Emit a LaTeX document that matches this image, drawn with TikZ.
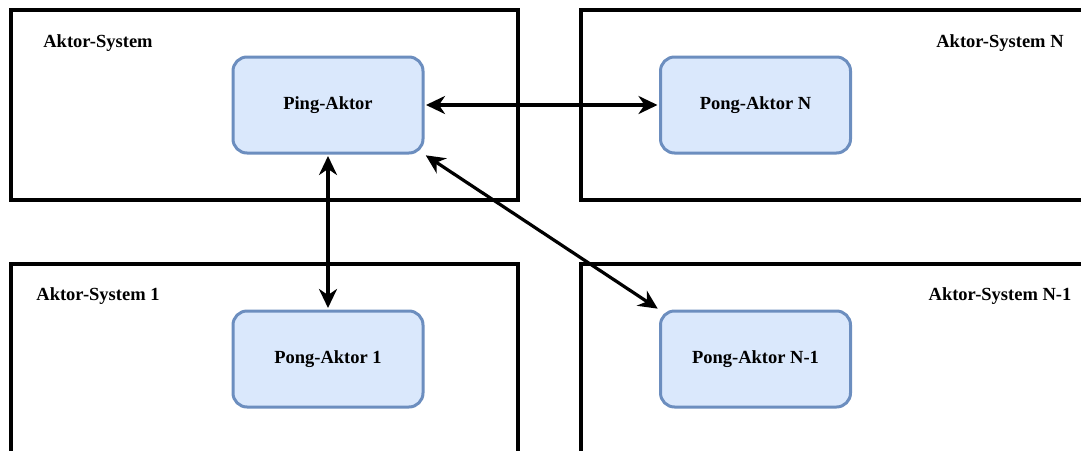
\documentclass[tikz,border=0pt]{standalone}
\usepackage{fontspec}
\setmainfont{Liberation Serif}
\usetikzlibrary{arrows.meta}
\tikzset{
  sysbox/.style={draw=black, line width=3.3pt, rectangle, inner sep=0pt},
  actor/.style={draw={rgb,255:red,108;green,142;blue,191}, fill={rgb,255:red,218;green,232;blue,252},
    line width=3pt, rounded corners=14pt, minimum width=190pt, minimum height=96pt,
    font=\fontsize{18.5pt}{22pt}\selectfont\bfseries},
  syslabel/.style={font=\fontsize{18.5pt}{22pt}\selectfont\bfseries},
  link/.style={line width=3.2pt, {Stealth[length=19pt,width=18pt,inset=6pt]}-{Stealth[length=19pt,width=18pt,inset=6pt]}, shorten <=1.5pt, shorten >=1.5pt}
}
\begin{document}
\begin{tikzpicture}[x=1pt,y=-1pt]
\useasboundingbox (0,0) rectangle (1081,450);
\begin{scope}
\clip (0,0) rectangle (1081,450);
\node[sysbox, minimum width=507pt, minimum height=190pt] (s0) at (264.5,105) {};
\node[sysbox, minimum width=520pt, minimum height=190pt] (sN) at (841,105) {};
\node[sysbox, minimum width=507pt, minimum height=210pt] (s1) at (264.5,369) {};
\node[sysbox, minimum width=520pt, minimum height=210pt] (sN1) at (841,369) {};
\end{scope}
\node[syslabel] (l0) at (98,43) {Aktor-System};
\node[syslabel] (lN) at (1000,43) {Aktor-System N};
\node[syslabel] (l1) at (98,296) {Aktor-System 1};
\node[syslabel] (lN1) at (1000,296) {Aktor-System N-1};
\node[actor] (ping) at (328,105) {Ping-Aktor};
\node[actor] (pongN) at (755.5,105) {Pong-Aktor N};
\node[actor] (pong1) at (328,359) {Pong-Aktor 1};
\node[actor] (pongN1) at (755.5,359) {Pong-Aktor N-1};
\draw[link] (ping.east) -- (pongN.west);
\draw[link] (ping.south) -- (pong1.north);
\draw[link] (ping.south east) -- (pongN1.north west);
\end{tikzpicture}
\end{document}
